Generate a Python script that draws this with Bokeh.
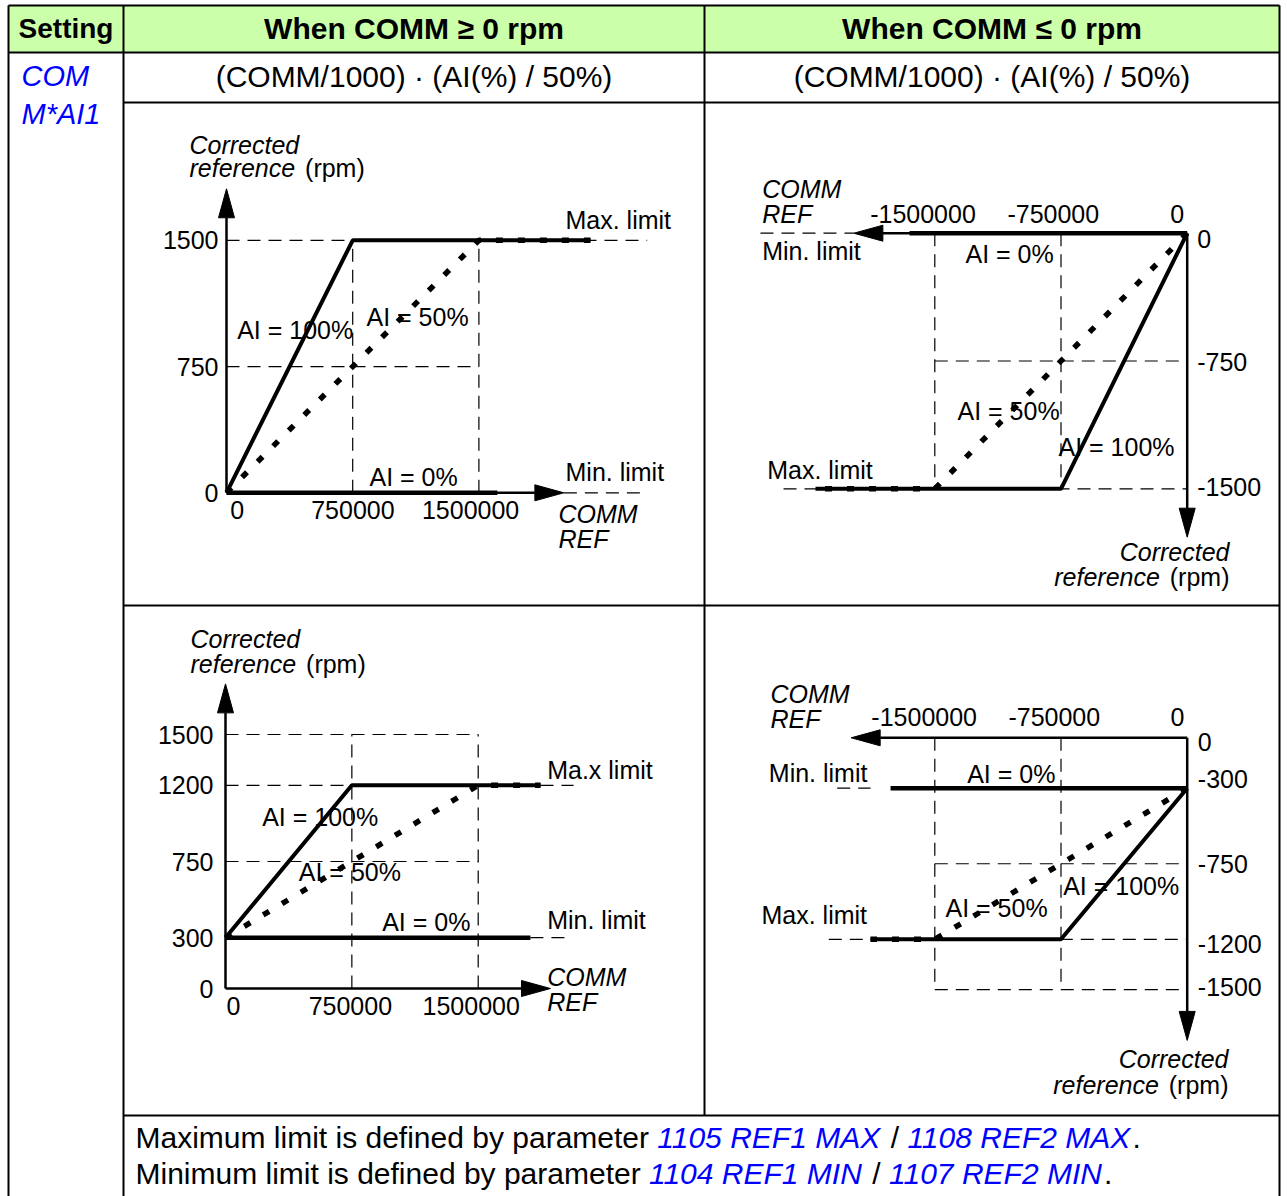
from bokeh.plotting import figure
from bokeh.models import Range1d
from bokeh.core.properties import value
from bokeh.embed import file_html
from bokeh.resources import INLINE

# ============================ DATA ============================
header_labels = ["Setting", "When COMM \u2265 0 rpm", "When COMM \u2264 0 rpm"]
setting_label = ["COM", "M*AI1"]
formula_label = "(COMM/1000) \u00b7 (AI(%) / 50%)"
curve_labels = ["AI = 100%", "AI = 50%", "AI = 0%"]
comm_ref_title = ["COMM", "REF"]
corrected_title = ["Corrected", "reference", "(rpm)"]
limit_labels = ["Max. limit", "Min. limit", "Ma.x limit"]
footer_max = [("Maximum limit is defined by parameter ", False), ("1105 REF1 MAX", True),
              (" / ", False), ("1108 REF2 MAX", True), (".", False)]
footer_min = [("Minimum limit is defined by parameter ", False), ("1104 REF1 MIN", True),
              (" / ", False), ("1107 REF2 MIN", True), (".", False)]

# Chart A (top-left): COMM >= 0, min limit 0 rpm, max limit 1500 rpm
a_xticks = [0, 750000, 1500000]
a_xtick_text = ["0", "750000", "1500000"]
a_yticks = [0, 750, 1500]
a_ytick_text = ["0", "750", "1500"]
a_ai100_x = [0, 750000, 2163000]
a_ai100_y = [0, 1500, 1500]
a_ai50_x = [0, 1500000, 2163000]
a_ai50_y = [0, 1500, 1500]
a_ai0_x = [0, 1610000]
a_ai0_y = [0, 0]
a_axis_end = [2005000, 1806]
a_guides = [(0, 1500, 2500000, 1500), (0, 750, 1500000, 750), (750000, 0, 750000, 1500),
            (1500000, 0, 1500000, 1500), (2005000, 0, 2500000, 0)]

# Chart B (top-right): COMM <= 0, min limit 0 rpm, max limit -1500 rpm
b_xticks = [-1500000, -750000, 0]
b_xtick_text = ["-1500000", "-750000", "0"]
b_yticks = [0, -750, -1500]
b_ytick_text = ["0", "-750", "-1500"]
b_ai100_x = [0, -750000, -2209000]
b_ai100_y = [0, -1500, -1500]
b_ai50_x = [0, -1500000, -2209000]
b_ai50_y = [0, -1500, -1500]
b_ai0_x = [0, -1650000]
b_ai0_y = [0, 0]
b_axis_end = [-1981000, -1784]
b_guides = [(-2399000, -1500, 0, -1500), (-1500000, -750, 0, -750), (-1500000, 0, -1500000, -1500),
            (-750000, 0, -750000, -1500), (-2536000, 0, -1981000, 0)]

# Chart C (bottom-left): COMM >= 0, min limit 300 rpm, max limit 1200 rpm
c_xticks = [0, 750000, 1500000]
c_xtick_text = ["0", "750000", "1500000"]
c_yticks = [0, 300, 750, 1200, 1500]
c_ytick_text = ["0", "300", "750", "1200", "1500"]
c_ai100_x = [0, 750000, 1870000]
c_ai100_y = [300, 1200, 1200]
c_ai50_x = [0, 1500000, 1870000]
c_ai50_y = [300, 1200, 1200]
c_ai0_x = [0, 1810000]
c_ai0_y = [300, 300]
c_axis_end = [1929000, 1799]
c_guides = [(0, 1500, 1500000, 1500), (0, 1200, 2066000, 1200), (0, 750, 1500000, 750),
            (750000, 0, 750000, 1500), (1500000, 0, 1500000, 1500), (1810000, 300, 2036000, 300)]

# Chart D (bottom-right): COMM <= 0, min limit -300 rpm, max limit -1200 rpm
d_xticks = [-1500000, -750000, 0]
d_xtick_text = ["-1500000", "-750000", "0"]
d_yticks = [0, -300, -750, -1200, -1500]
d_ytick_text = ["0", "-300", "-750", "-1200", "-1500"]
d_ai100_x = [0, -750000, -1882000]
d_ai100_y = [-300, -1200, -1200]
d_ai50_x = [0, -1500000, -1882000]
d_ai50_y = [-300, -1200, -1200]
d_ai0_x = [0, -1763000]
d_ai0_y = [-300, -300]
d_axis_end = [-1997000, -1802]
d_guides = [(-2130000, -1200, 0, -1200), (-1500000, -750, 0, -750), (-1500000, -1500, 0, -1500),
            (-1500000, 0, -1500000, -1500), (-750000, 0, -750000, -1500), (-2080000, -300, -1882000, -300)]

# ============================ LAYOUT / STYLE ============================
X0, X1, Y0, Y1 = 0, 1287, 0, 1196          # page-pixel extent of the canvas
FONT = value("Liberation Sans")
BLUE = "#0000FF"
GREEN = "#CCFFAA"
CH = 25          # chart text size
BIG = 30         # table text size

AW = {' ': 278, '.': 278, '/': 278, '(': 333, ')': 333, '%': 889, '*': 389, '=': 584, '-': 333,
      'A': 667, 'B': 667, 'C': 722, 'D': 722, 'E': 667, 'F': 611, 'G': 778, 'H': 722, 'I': 278,
      'J': 500, 'K': 667, 'L': 556, 'M': 833, 'N': 722, 'O': 778, 'P': 667, 'Q': 778, 'R': 722,
      'S': 667, 'T': 611, 'U': 722, 'V': 667, 'W': 944, 'X': 667, 'Y': 667, 'Z': 611,
      'a': 556, 'b': 556, 'c': 500, 'd': 556, 'e': 556, 'f': 278, 'g': 556, 'h': 556, 'i': 222,
      'j': 222, 'k': 500, 'l': 222, 'm': 833, 'n': 556, 'o': 556, 'p': 556, 'q': 556, 'r': 333,
      's': 500, 't': 278, 'u': 556, 'v': 500, 'w': 722, 'x': 500, 'y': 500, 'z': 500}


def tw(s, size):
    return sum(AW.get(ch, 556) for ch in s) * size / 1000.0


charts = {
    "a": dict(data=dict(xt=a_xticks, xl=a_xtick_text, yt=a_yticks, yl=a_ytick_text, h_x=a_ai100_x, h_y=a_ai100_y,
                        m_x=a_ai50_x, m_y=a_ai50_y, z_x=a_ai0_x, z_y=a_ai0_y, end=a_axis_end, guides=a_guides),
              ox=226, oy=492.3, sx=126.2 / 750000, sy=252.5 / 1500, xl_dy=17.5, xl_dx=[10.7, 0.2, -8.3],
              yl_dx=-8, yl_dy=[0, 0, 0], y_align="right", xaxis_w=2.5),
    "b": dict(data=dict(xt=b_xticks, xl=b_xtick_text, yt=b_yticks, yl=b_ytick_text, h_x=b_ai100_x, h_y=b_ai100_y,
                        m_x=b_ai50_x, m_y=b_ai50_y, z_x=b_ai0_x, z_y=b_ai0_y, end=b_axis_end, guides=b_guides),
              ox=1186.7, oy=232.7, sx=252.4 / 1500000, sy=255.6 / 1500, xl_dy=-19.5, xl_dx=[-11.8, -7.7, -10],
              yl_dx=10, yl_dy=[6, 1, -1.6], y_align="left", xaxis_w=2.5),
    "c": dict(data=dict(xt=c_xticks, xl=c_xtick_text, yt=c_yticks, yl=c_ytick_text, h_x=c_ai100_x, h_y=c_ai100_y,
                        m_x=c_ai50_x, m_y=c_ai50_y, z_x=c_ai0_x, z_y=c_ai0_y, end=c_axis_end, guides=c_guides),
              ox=225, oy=988, sx=252.7 / 1500000, sy=254 / 1500, xl_dy=17.5, xl_dx=[8, -1.5, -7],
              yl_dx=-12, yl_dy=[0, 0, 0, 0, 0], y_align="right", xaxis_w=2.5),
    "d": dict(data=dict(xt=d_xticks, xl=d_xtick_text, yt=d_yticks, yl=d_ytick_text, h_x=d_ai100_x, h_y=d_ai100_y,
                        m_x=d_ai50_x, m_y=d_ai50_y, z_x=d_ai0_x, z_y=d_ai0_y, end=d_axis_end, guides=d_guides),
              ox=1186.7, oy=737.3, sx=252.4 / 1500000, sy=251.9 / 1500, xl_dy=-21, xl_dx=[-10.6, -6.7, -9.7],
              yl_dx=10.6, yl_dy=[4.4, -8.7, 0, 4.5, -2.5], y_align="left", xaxis_w=2.5),
}

extra_x = {}
extra_y = {}
for k, c in charts.items():
    extra_x[k + "x"] = Range1d((X0 - c["ox"]) / c["sx"], (X1 - c["ox"]) / c["sx"])
    extra_y[k + "y"] = Range1d((c["oy"] - Y1) / c["sy"], (c["oy"] - Y0) / c["sy"])

p = figure(width=X1 - X0, height=Y1 - Y0, x_range=Range1d(X0, X1), y_range=Range1d(Y1, Y0),
           x_axis_location=None, y_axis_location=None, min_border=0,
           output_backend="svg", toolbar_location=None,
           extra_x_ranges=extra_x, extra_y_ranges=extra_y)
p.grid.visible = False
p.outline_line_color = None
p.background_fill_color = "white"
p.border_fill_color = "white"


def add_text(x, y, s, size, style="normal", align="left", color="black"):
    p.text(x=[x], y=[y], text=[s], text_font=FONT, text_font_size=f"{size}px",
           text_font_style=style, text_align=align, text_baseline="middle", text_color=color)


# ---------------- table ----------------
TL, TR, TT = 8, 1279, 5
p.quad(left=[TL], right=[TR], top=[TT], bottom=[52], fill_color=GREEN, line_color=None)
h_lines = [(TL, TT, TR, TT), (TL, 52, TR, 52), (123, 102, TR, 102), (123, 605, TR, 605), (123, 1115, TR, 1115)]
v_lines = [(TL, TT, TL, Y1), (123, TT, 123, Y1), (704, TT, 704, 1115), (TR, TT, TR, Y1)]
segs = h_lines + v_lines
p.segment(x0=[s[0] for s in segs], y0=[s[1] for s in segs], x1=[s[2] for s in segs], y1=[s[3] for s in segs],
          line_color="black", line_width=2)

add_text(65.5, 28, header_labels[0], 28, "bold", "center")
add_text(413.5, 28, header_labels[1], BIG, "bold", "center")
add_text(991.5, 28, header_labels[2], BIG, "bold", "center")
add_text(21, 75, setting_label[0], 29, "italic", "left", BLUE)
add_text(21, 113, setting_label[1], 29, "italic", "left", BLUE)
add_text(413.5, 76, formula_label, BIG, "normal", "center")
add_text(991.5, 76, formula_label, BIG, "normal", "center")


def footer(line, y, size=30):
    x = 135
    for seg, param in line:
        lead = len(seg) - len(seg.lstrip())
        add_text(x + tw(seg[:lead], size), y, seg.strip(), size,
                 "italic" if param else "normal", "left", BLUE if param else "black")
        x += tw(seg, size)


footer(footer_max, 1137)
footer(footer_min, 1173)


# ---------------- chart annotations (page-pixel layout) ----------------
def corrected_left(x, y1, y2):
    add_text(x, y1, corrected_title[0], CH, "italic")
    add_text(x, y2, corrected_title[1], CH, "italic")
    add_text(x + tw(corrected_title[1] + " ", CH) + 3, y2, corrected_title[2], CH)


def corrected_right(xr, y1, y2):
    add_text(xr, y1, corrected_title[0], CH, "italic", "right")
    add_text(xr, y2, corrected_title[2], CH, "normal", "right")
    add_text(xr - tw(" " + corrected_title[2], CH) - 3, y2, corrected_title[1], CH, "italic", "right")


def comm_ref(x, y1, y2):
    add_text(x, y1, comm_ref_title[0], CH, "italic")
    add_text(x, y2, comm_ref_title[1], CH, "italic")


# A
corrected_left(189, 144, 167)
comm_ref(558, 513.5, 538)
add_text(565, 219, limit_labels[0], CH)
add_text(565, 471.5, limit_labels[1], CH)
add_text(236.7, 329, curve_labels[0], CH)
add_text(366, 316, curve_labels[1], CH)
add_text(369, 476, curve_labels[2], CH)
# B
comm_ref(761.7, 188, 213.5)
add_text(761.7, 250, limit_labels[1], CH)
add_text(965, 253.3, curve_labels[2], CH)
add_text(957, 410, curve_labels[1], CH)
add_text(1058, 446, curve_labels[0], CH)
add_text(766.7, 469, limit_labels[0], CH)
corrected_right(1229, 551.5, 576)
# C
corrected_left(190, 638, 663)
comm_ref(546.7, 976.7, 1001.7)
add_text(546.7, 769, limit_labels[2], CH)
add_text(546.7, 919, limit_labels[1], CH)
add_text(261.7, 816, curve_labels[0], CH)
add_text(298.3, 871, curve_labels[1], CH)
add_text(381.7, 921, curve_labels[2], CH)
# D
comm_ref(770, 693.3, 718.3)
add_text(768.3, 772.5, limit_labels[1], CH)
add_text(966.7, 773.3, curve_labels[2], CH)
add_text(1062.7, 885, curve_labels[0], CH)
add_text(945, 907.5, curve_labels[1], CH)
add_text(761, 914, limit_labels[0], CH)
corrected_right(1228, 1058, 1084)


# ---------------- charts (data through their own scales) ----------------
def draw_chart(k, c):
    d = c["data"]
    kw = dict(x_range_name=k + "x", y_range_name=k + "y")
    sx, sy = c["sx"], c["sy"]
    g = d["guides"]
    p.segment(x0=[s[0] for s in g], y0=[s[1] for s in g], x1=[s[2] for s in g], y1=[s[3] for s in g],
              line_color="black", line_width=1.2, line_dash="13 8", **kw)
    tx, ty = d["end"]
    ddx = 1 if tx > 0 else -1
    ddy = 1 if ty > 0 else -1
    HL, HW = 29, 8
    p.line([0, tx - ddx * HL / sx], [0, 0], line_color="black", line_width=c["xaxis_w"], **kw)
    p.line([0, 0], [0, ty - ddy * HL / sy], line_color="black", line_width=2.5, **kw)
    p.line(d["z_x"], d["z_y"], line_color="black", line_width=4.5, **kw)
    p.line(d["h_x"], d["h_y"], line_color="black", line_width=4, **kw)
    p.line(d["m_x"], d["m_y"], line_color="black", line_width=5.5, line_dash="7 15", **kw)
    p.patches(xs=[[tx, tx - ddx * HL / sx, tx - ddx * HL / sx], [0, HW / sx, -HW / sx]],
              ys=[[0, HW / sy, -HW / sy], [ty, ty - ddy * HL / sy, ty - ddy * HL / sy]],
              fill_color="black", line_color="black", line_width=1, **kw)
    p.text(x=d["xt"], y=[0] * len(d["xt"]), text=d["xl"], x_offset=c["xl_dx"], y_offset=c["xl_dy"],
           text_font=FONT, text_font_size=f"{CH}px", text_align="center", text_baseline="middle",
           text_color="black", **kw)
    p.text(x=[0] * len(d["yt"]), y=d["yt"], text=d["yl"], x_offset=c["yl_dx"], y_offset=c["yl_dy"],
           text_font=FONT, text_font_size=f"{CH}px", text_align=c["y_align"], text_baseline="middle",
           text_color="black", **kw)


for k, c in charts.items():
    draw_chart(k, c)

open("out.html", "w").write(file_html(p, INLINE))
